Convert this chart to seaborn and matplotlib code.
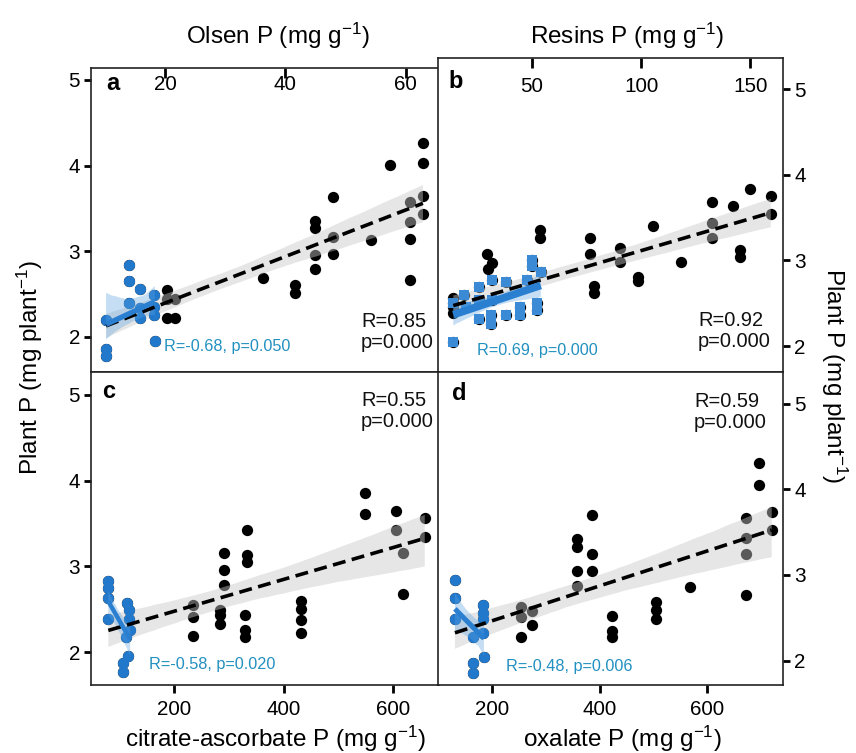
import numpy as np
import pandas as pd
import matplotlib
matplotlib.use("Agg")
import matplotlib.pyplot as plt
from matplotlib import font_manager as fm
import seaborn as sns

# ---------------- data ----------------
# panel a: Olsen P
olsen_x_hi = [20.4, 20.4, 21.7, 20.4, 21.7, 36.3, 41.7, 41.7, 44.9, 44.9, 44.9, 44.9,
              47.9, 47.9, 47.9, 54.3, 57.5, 60.8, 60.8, 60.8, 60.8, 62.9, 62.9, 62.9, 62.9]
olsen_y_hi = [2.55, 2.44, 2.44, 2.22, 2.22, 2.69, 2.61, 2.51, 3.35, 3.27, 2.96, 2.79,
              3.63, 3.17, 2.97, 3.13, 4.01, 3.58, 3.34, 3.14, 2.67, 4.27, 4.03, 3.65, 3.44]
olsen_x_lo = [10.2, 10.2, 10.2, 14.05, 14.05, 14.05, 15.8, 15.8, 15.8, 18.2, 18.2, 18.2, 18.3]
olsen_y_lo = [2.20, 1.86, 1.78, 2.84, 2.65, 2.39, 2.56, 2.34, 2.22, 2.49, 2.35, 2.25, 1.95]

# panel b: Resins P
resin_x_hi = [13.9, 13.9, 13.9, 29.5, 31.5, 30.0, 53.7, 53.7, 76.6, 76.6, 78.4, 78.4, 90.4, 90.4,
              98.8, 98.8, 105.6, 118.2, 132.4, 132.4, 132.4, 142.3, 145.4, 145.4, 150.0, 159.5, 159.5]
resin_y_hi = [2.56, 2.46, 2.38, 3.07, 2.97, 2.90, 3.35, 3.26, 3.26, 3.07, 2.70, 2.62, 3.14, 2.98,
              2.81, 2.76, 3.40, 2.98, 3.68, 3.44, 3.26, 3.63, 3.12, 3.04, 3.83, 3.75, 3.54]
resin_x_lo = [13.9, 13.9, 19.0, 19.5, 25.8, 25.8, 25.8, 31.5, 31.5, 31.0, 31.0, 38.1, 38.1,
              44.5, 44.5, 47.6, 49.9, 49.9, 52.3, 52.5, 54.0]
resin_y_lo = [2.05, 2.50, 2.60, 2.46, 2.69, 2.54, 2.32, 2.77, 2.54, 2.36, 2.26, 2.75, 2.36,
              2.46, 2.36, 2.77, 3.00, 2.93, 2.50, 2.42, 2.86]

# panel c: citrate-ascorbate P
citr_x_hi = [235, 235, 235, 284, 284, 284, 292, 292, 292, 333, 333, 333, 330, 330, 330,
             432, 432, 432, 432, 549, 549, 605.5, 605.5, 617.7, 617.7, 658, 658]
citr_y_hi = [2.55, 2.41, 2.19, 2.49, 2.43, 2.33, 3.15, 2.96, 2.78, 3.42, 3.13, 3.05, 2.43, 2.26, 2.18,
             2.59, 2.50, 2.37, 2.22, 3.85, 3.61, 3.65, 3.42, 3.16, 2.68, 3.56, 3.34]
citr_x_lo = [80, 80, 80, 80, 114, 117, 117, 112, 120, 116.5, 107.4, 107.4]
citr_y_lo = [2.83, 2.75, 2.63, 2.39, 2.57, 2.49, 2.39, 2.18, 2.26, 1.95, 1.87, 1.77]

# panel d: oxalate P
oxal_x_hi = [253, 253, 253, 274, 274, 359, 359, 359, 359, 385.5, 385.5, 385.5, 422.7, 422.7, 422.7,
             506, 506, 506, 568, 672.6, 672.6, 672.6, 672.6, 697.3, 697.3, 720.4, 720.4]
oxal_y_hi = [2.63, 2.51, 2.28, 2.58, 2.42, 3.42, 3.33, 3.04, 2.87, 3.70, 3.24, 3.05, 2.52, 2.35, 2.28,
             2.68, 2.59, 2.48, 2.86, 3.66, 3.43, 3.24, 2.76, 4.30, 4.05, 3.73, 3.52]
oxal_x_lo = [131, 131, 131, 165, 165, 165, 182.7, 182.7, 182.7, 182.7, 185]
oxal_y_lo = [2.94, 2.73, 2.49, 2.28, 1.97, 1.85, 2.65, 2.56, 2.48, 2.32, 2.04]

panel_letters = ["a", "b", "c", "d"]
stats_all = ["R=0.85\np=0.000", "R=0.92\np=0.000", "R=0.55\np=0.000", "R=0.59\np=0.000"]
stats_low = ["R=-0.68, p=0.050", "R=0.69, p=0.000", "R=-0.58, p=0.020", "R=-0.48, p=0.006"]
xticks_a = [20, 40, 60]
xticks_b = [50, 100, 150]
xticks_cd = [200, 400, 600]
yticks = [2, 3, 4, 5]
x_titles = ["Olsen P (mg g$^{-1}$)", "Resins P (mg g$^{-1}$)",
            "citrate-ascorbate P (mg g$^{-1}$)", "oxalate P (mg g$^{-1}$)"]
y_title = "Plant P (mg plant$^{-1}$)"

# ---------------- style ----------------
plt.rcParams['font.family'] = ['Liberation Sans', 'DejaVu Sans']
plt.rcParams['mathtext.default'] = 'regular'
names = {f.name for f in fm.fontManager.ttflist}
if 'Liberation Sans Narrow' in names:
    NARROW = ['Liberation Sans Narrow', 'Liberation Sans', 'DejaVu Sans']
    SC = 1.0
else:
    NARROW = ['Liberation Sans', 'DejaVu Sans']
    SC = 0.9

BLUE_PT = '#2279cc'
BLUE_SQ = '#3b8ad6'
BLUE_LN = '#2a7fd0'
BLUE_TX = '#2290c0'

W, H = 856, 753
fig = plt.figure(figsize=(W / 100, H / 100), dpi=100)


def rect(l, t, r, b):
    return [l / W, 1 - b / H, (r - l) / W, (b - t) / H]


def px(x, y):
    return x / W, 1 - y / H


def draw(ax, xh, yh, xl, yl, low_marker='o', low_color=BLUE_PT, low_lw=3.5, low_s=64):
    df = pd.DataFrame({'x': np.r_[xh, xl], 'y': np.r_[yh, yl]})
    sns.regplot(data=df, x='x', y='y', ax=ax, color='black', seed=3, ci=95,
                scatter_kws=dict(s=66, alpha=1, linewidths=0),
                line_kws=dict(color='black', lw=2.6, ls=(0, (3.6, 1.8))))
    band = ax.collections[-1]
    band.set_facecolor('#c8c8c8')
    band.set_edgecolor('none')
    band.set_alpha(0.45)
    dl = pd.DataFrame({'x': xl, 'y': yl})
    sns.regplot(data=dl, x='x', y='y', ax=ax, color=BLUE_LN, seed=3, ci=85, marker=low_marker,
                scatter_kws=dict(s=low_s, alpha=1, linewidths=0, color=low_color),
                line_kws=dict(color=BLUE_LN, lw=low_lw, solid_capstyle='butt'))
    band = ax.collections[-1]
    band.set_facecolor('#5aa2e2')
    band.set_edgecolor('none')
    band.set_alpha(0.35)
    ax.set_xlabel('')
    ax.set_ylabel('')
    for s in ax.spines.values():
        s.set_linewidth(1.2)
        s.set_color('#222222')


ax_a = fig.add_axes(rect(91, 68, 439, 372))
ax_b = fig.add_axes(rect(438, 58, 783, 372))
ax_c = fig.add_axes(rect(91, 372, 439, 685))
ax_d = fig.add_axes(rect(438, 372, 783, 685))

draw(ax_a, olsen_x_hi, olsen_y_hi, olsen_x_lo, olsen_y_lo, low_lw=3.8)
draw(ax_b, resin_x_hi, resin_y_hi, resin_x_lo, resin_y_lo, low_marker='s', low_color=BLUE_SQ,
     low_lw=5.5, low_s=52)
draw(ax_c, citr_x_hi, citr_y_hi, citr_x_lo, citr_y_lo, low_lw=3.2)
draw(ax_d, oxal_x_hi, oxal_y_hi, oxal_x_lo, oxal_y_lo, low_lw=3.6)

ax_a.set_xlim(7.69, 65.57); ax_a.set_ylim(1.59, 5.14)
ax_b.set_xlim(6.88, 165.1); ax_b.set_ylim(1.697, 5.362)
ax_c.set_xlim(48.4, 684.0); ax_c.set_ylim(1.615, 5.268)
ax_d.set_xlim(99.5, 741.4); ax_d.set_ylim(1.714, 5.368)

TICK_FS = 16.5 * SC
for ax, xt in [(ax_a, xticks_a), (ax_b, xticks_b)]:
    ax.set_xticks(xt)
    ax.xaxis.tick_top()
for ax in (ax_c, ax_d):
    ax.set_xticks(xticks_cd)
    ax.xaxis.tick_bottom()
for ax in (ax_a, ax_b, ax_c, ax_d):
    ax.set_yticks(yticks)
for ax in (ax_b, ax_d):
    ax.yaxis.tick_right()
for ax in (ax_a, ax_c):
    ax.yaxis.tick_left()

ax_a.tick_params(axis='x', direction='in', length=7, width=2, pad=-19, labelsize=TICK_FS,
                 labelfontfamily=NARROW)
ax_b.tick_params(axis='x', direction='in', length=7, width=2, pad=-27, labelsize=TICK_FS,
                 labelfontfamily=NARROW)
for ax in (ax_c, ax_d):
    ax.tick_params(axis='x', direction='out', length=6, width=2, pad=5, labelsize=TICK_FS,
                   labelfontfamily=NARROW)
for ax in (ax_a, ax_b, ax_c, ax_d):
    ax.tick_params(axis='y', direction='out', length=5, width=2, pad=3, labelsize=TICK_FS,
                   labelfontfamily=NARROW)

# panel letters
for (x, y), t in zip([(113, 84), (456, 81), (109, 391), (459, 394)], panel_letters):
    fig.text(*px(x, y), t, ha='center', va='center', fontsize=17, fontweight='bold')

# statistics
STAT_FS = 16 * SC
LOW_FS = 13 * SC
for (x, y), t in zip([(361, 332), (698, 331), (361, 411), (694, 412)], stats_all):
    fig.text(*px(x, y), t, ha='left', va='center', fontsize=STAT_FS, family=NARROW,
             color='#111111', linespacing=1.1)
for (x, y), t in zip([(164, 346), (477, 350), (149, 664), (506, 667)], stats_low):
    fig.text(*px(x, y), t, ha='left', va='center', fontsize=LOW_FS, family=NARROW, color=BLUE_TX)

# axis titles
TFS = 17.5
fig.text(*px(278, 36), x_titles[0], ha='center', va='center', fontsize=TFS)
fig.text(*px(627, 36), x_titles[1], ha='center', va='center', fontsize=TFS)
fig.text(*px(275, 739), x_titles[2], ha='center', va='center', fontsize=TFS)
fig.text(*px(622, 739), x_titles[3], ha='center', va='center', fontsize=TFS)
fig.text(*px(30, 368), y_title, ha='center', va='center', rotation=90, fontsize=TFS)
fig.text(*px(834, 375), y_title, ha='center', va='center', rotation=-90, fontsize=TFS)

fig.savefig("out.png", dpi=100)
